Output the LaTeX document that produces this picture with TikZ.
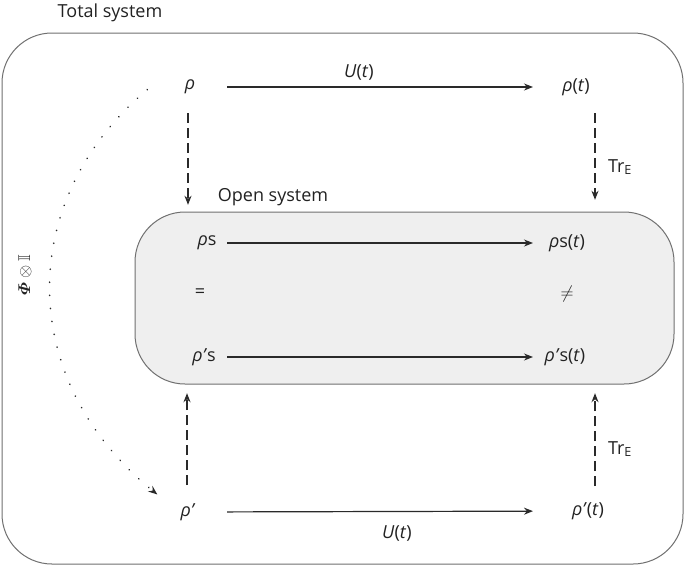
\documentclass[tikz,border=0pt]{standalone}
\usepackage{fix-cm}
\usepackage{amsmath,amssymb,bm}
\usepackage{fontspec}
\setmainfont{Open Sans}
\usetikzlibrary{arrows.meta}
\definecolor{txt}{HTML}{222222}
\definecolor{ln}{HTML}{2A2A2A}
\definecolor{frame}{HTML}{707070}
\definecolor{innerfill}{HTML}{EFEFEF}
\begin{document}
\begin{tikzpicture}[x=1pt,y=-1pt,
  lbl/.style={inner sep=0pt, font=\fontsize{18}{21}\selectfont, text=txt},
  arr/.style={draw=ln, line width=1.2pt, -{Stealth[length=9pt,width=7pt]}},
  dsh/.style={arr, dash pattern=on 10pt off 5pt},
  dotarr/.style={draw=ln, line width=1.7pt, line cap=round, dash pattern=on 0.1pt off 13pt, -{Stealth[length=9pt,width=7pt]}},
  box/.style={draw=frame, line width=1pt, rounded corners=50pt}]
\useasboundingbox (0,0) rectangle (685,566);
% frames
\draw[box, fill=white] (2,33) rectangle (683,564);
\node[lbl] (total) at (110,13) {Total system};
\draw[box, fill=innerfill] (135,212) rectangle (674,384);
\node[inner sep=0pt, minimum width=539pt, minimum height=172pt] (inner) at (404.5,298) {};
\node[lbl] (open) at (273,197) {Open system};
% nodes
\node[lbl] (rho)    at (190,87)  {\textit{ρ}};
\node[lbl] (rhot)   at (576,87)  {\textit{ρ}(\textit{t})};
\node[lbl] (rhos)   at (207,243) {\textit{ρ}s};
\node[lbl] (rhost)  at (567,243) {\textit{ρ}s(\textit{t})};
\node[lbl] (eq)     at (200,293) {=};
\node[lbl] (neq)    at (567,294) {$\neq$};
\node[lbl] (rhops)  at (204,357) {\textit{ρ’}s};
\node[lbl] (rhopst) at (565,357) {\textit{ρ’}s(\textit{t})};
\node[lbl] (rhop)   at (188,512) {\textit{ρ’}};
\node[lbl] (rhopt)  at (588,511) {\textit{ρ’}(\textit{t})};
\node[lbl] (u1)     at (359,72)  {\textit{U}(\textit{t})};
\node[lbl] (u2)     at (397,533) {\textit{U}(\textit{t})};
\node[lbl] (tr1)    at (620,167) {Tr\textsubscript{E}};
\node[lbl] (tr2)    at (620,449) {Tr\textsubscript{E}};
\node[inner sep=0pt, text=txt, font=\fontsize{17}{20}\selectfont, rotate=90] (phi) at (25,275) {$\bm{\varPhi}\otimes\mathbb{I}$};
\node[inner sep=0pt] (ds) at (148,89) {};
\node[inner sep=0pt] (de) at (158,495) {};
% horizontal arrows
\draw[arr, shorten <=37pt, shorten >=43pt] (rho.center) -- (rhot.center);
\draw[arr, shorten <=20pt, shorten >=34pt] (rhos.center) -- (rhost.center);
\draw[arr, shorten <=23pt, shorten >=32pt] (rhops.center) -- (rhopst.center);
\draw[arr, shorten <=39pt, shorten >=55pt] (rhop.center) -- (rhopt.center);
% vertical dashed arrows
\draw[dsh, shorten <=26pt, shorten >=7pt] ([xshift=-2pt]rho.center) -- ([xshift=-2pt]rho.center |- inner.north);
\draw[dsh, shorten <=26pt, shorten >=12pt] ([xshift=19pt]rhot.center) -- ([xshift=19pt]rhot.center |- inner.north);
\draw[dsh, shorten <=27pt, shorten >=9pt] ([xshift=-1pt]rhop.center) -- ([xshift=-1pt]rhop.center |- inner.south);
\draw[dsh, shorten <=25pt, shorten >=9pt] ([xshift=7pt]rhopt.center) -- ([xshift=7pt]rhopt.center |- inner.south);
% dotted map
\draw[dotarr] (ds) .. controls (16,200) and (16,380) .. (de);
\end{tikzpicture}
\end{document}
